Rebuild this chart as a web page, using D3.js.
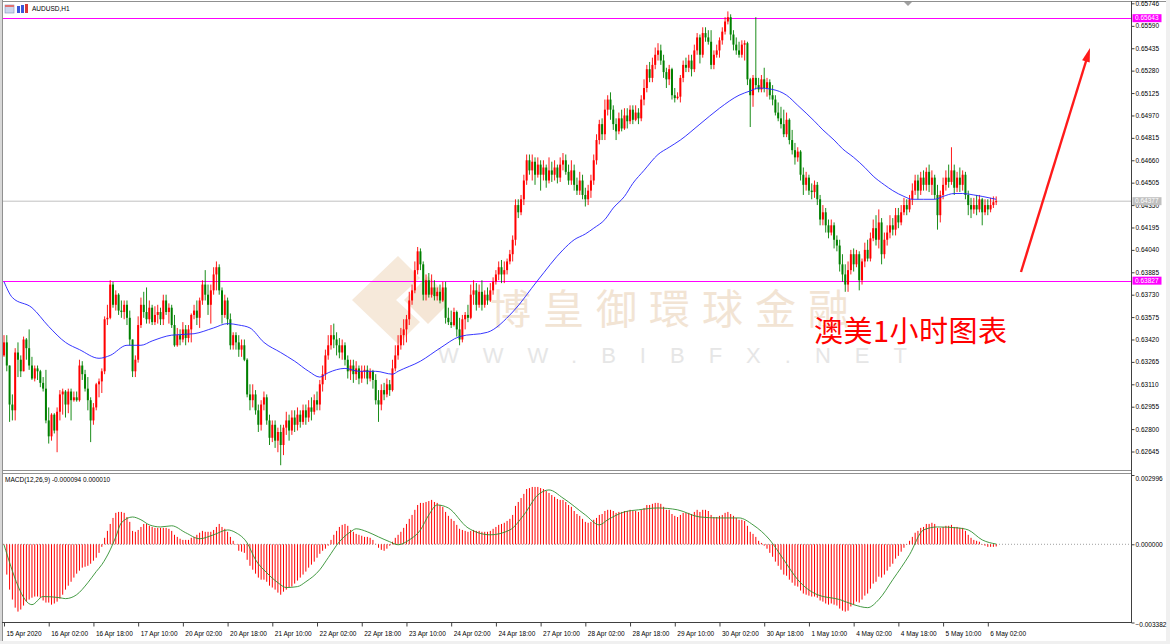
<!DOCTYPE html>
<html><head><meta charset="utf-8">
<script src="https://cdn.jsdelivr.net/npm/d3@7"></script>
<style>
html,body{margin:0;padding:0;background:#fff;}
svg{display:block;}
</style></head><body>
<svg id="c" width="1170" height="644"></svg>
<script>
// ---------------- DATA (prices in pips, i.e. x1e-4) ----------------
const symbolTitle = "AUDUSD,H1";
const macdTitle = "MACD(12,26,9) -0.000094 0.000010";
const firstOpen = 6331;
const closes = [6340,6324,6297,6293,6333,6328,6320,6342,6336,6324,
6315,6322,6320,6312,6308,6286,6275,6290,6279,6292,
6304,6306,6297,6306,6300,6302,6300,6324,6318,6308,
6300,6286,6295,6311,6313,6320,6356,6357,6380,6366,
6373,6362,6361,6366,6357,6342,6320,6328,6352,6366,
6361,6356,6364,6354,6359,6361,6356,6369,6361,6364,
6352,6338,6345,6342,6349,6343,6349,6359,6362,6357,
6369,6380,6373,6366,6376,6387,6392,6376,6359,6369,
6356,6338,6345,6340,6335,6338,6328,6304,6300,6304,
6293,6283,6297,6302,6286,6274,6283,6272,6278,6269,
6281,6286,6279,6288,6283,6290,6285,6293,6288,6295,
6292,6300,6297,6311,6318,6331,6338,6345,6342,6338,
6333,6338,6328,6320,6324,6318,6322,6315,6320,6321,
6315,6320,6314,6300,6297,6307,6304,6311,6307,6322,
6331,6338,6345,6349,6356,6369,6376,6390,6403,6394,
6373,6383,6373,6378,6372,6375,6369,6378,6357,6354,
6352,6361,6349,6342,6356,6359,6357,6373,6376,6366,
6375,6366,6373,6369,6376,6382,6387,6392,6387,6390,
6396,6401,6411,6435,6430,6439,6452,6466,6459,6465,
6456,6463,6456,6461,6452,6459,6456,6461,6454,6463,
6466,6458,6452,6459,6449,6445,6452,6442,6439,6445,
6452,6466,6480,6491,6484,6501,6508,6501,6491,6486,
6495,6488,6497,6493,6501,6494,6499,6495,6508,6516,
6529,6523,6532,6539,6542,6535,6527,6522,6529,6511,
6509,6510,6523,6532,6530,6535,6529,6542,6551,6539,
6554,6551,6548,6532,6539,6542,6549,6555,6562,6565,
6553,6546,6542,6539,6546,6547,6522,6511,6523,6518,
6515,6522,6516,6520,6511,6508,6499,6495,6491,6484,
6494,6480,6473,6468,6472,6456,6449,6454,6445,6444,
6449,6439,6425,6430,6421,6416,6421,6411,6407,6394,
6387,6380,6390,6401,6394,6401,6383,6396,6404,6398,
6412,6419,6411,6423,6401,6411,6416,6421,6418,6428,
6423,6430,6435,6432,6439,6445,6452,6445,6454,6449,
6458,6449,6454,6442,6428,6442,6449,6454,6451,6459,
6447,6454,6449,6456,6442,6435,6432,6435,6432,6439,
6430,6435,6432,6435,6437,6437.7];
const highs = [6345,6345,6324,6304,6336,6340,6331,6344,6343,6349,
6330,6324,6324,6321,6316,6321,6295,6291,6291,6295,
6307,6308,6307,6308,6308,6306,6306,6328,6327,6321,
6316,6302,6298,6312,6315,6322,6358,6366,6383,6382,
6376,6374,6369,6369,6369,6362,6342,6331,6358,6371,
6375,6378,6369,6366,6365,6366,6364,6373,6373,6367,
6366,6359,6350,6349,6354,6352,6352,6360,6366,6369,
6371,6383,6390,6380,6380,6392,6396,6394,6378,6373,
6371,6360,6347,6347,6345,6342,6342,6329,6311,6311,
6307,6297,6300,6306,6304,6290,6286,6286,6281,6283,
6283,6292,6290,6293,6293,6295,6293,6297,6297,6300,
6302,6304,6306,6314,6324,6335,6345,6352,6353,6347,
6343,6342,6340,6331,6328,6328,6327,6324,6324,6324,
6324,6322,6321,6318,6307,6311,6312,6315,6314,6328,
6338,6345,6350,6356,6359,6375,6380,6396,6406,6405,
6396,6387,6388,6387,6383,6378,6380,6382,6382,6364,
6362,6364,6362,6357,6359,6361,6366,6380,6383,6381,
6380,6383,6376,6378,6381,6385,6390,6396,6397,6396,
6398,6404,6414,6439,6439,6442,6456,6470,6470,6470,
6468,6468,6466,6466,6463,6468,6465,6466,6463,6468,
6471,6470,6463,6466,6463,6454,6458,6456,6447,6449,
6456,6470,6484,6494,6495,6508,6511,6513,6504,6495,
6499,6501,6502,6502,6504,6504,6504,6502,6511,6522,
6532,6534,6537,6544,6547,6546,6539,6530,6532,6530,
6516,6513,6525,6535,6537,6539,6539,6546,6554,6553,
6558,6558,6556,6556,6542,6546,6551,6558,6565,6569,
6567,6556,6551,6548,6549,6549,6548,6523,6525,6565,
6523,6525,6530,6523,6522,6518,6511,6506,6503,6501,
6499,6495,6487,6478,6475,6473,6461,6458,6456,6450,
6452,6451,6442,6435,6433,6425,6425,6423,6414,6411,
6401,6394,6396,6404,6405,6404,6403,6398,6409,6411,
6416,6425,6428,6432,6426,6416,6421,6428,6426,6433,
6433,6435,6440,6439,6442,6450,6456,6456,6458,6459,
6461,6463,6459,6456,6449,6445,6454,6459,6463,6475,
6463,6458,6461,6459,6458,6445,6440,6440,6442,6442,
6440,6439,6439,6440,6441,6441];
const lows = [6330,6320,6285,6286,6286,6316,6316,6320,6328,6321,
6314,6313,6314,6309,6306,6284,6270,6272,6277,6264,
6286,6290,6288,6291,6286,6299,6299,6299,6314,6306,
6293,6271,6283,6293,6302,6305,6318,6352,6356,6364,
6362,6359,6357,6356,6352,6338,6316,6316,6326,6350,
6357,6353,6353,6352,6352,6353,6352,6352,6359,6353,
6350,6337,6337,6338,6340,6338,6340,6340,6356,6352,
6350,6366,6369,6359,6353,6373,6376,6373,6353,6357,
6352,6335,6335,6335,6330,6330,6327,6302,6293,6295,
6290,6278,6279,6293,6283,6269,6271,6267,6264,6255,
6262,6276,6272,6276,6278,6279,6281,6283,6283,6285,
6286,6290,6293,6293,6306,6314,6328,6335,6336,6331,
6329,6328,6324,6315,6314,6312,6314,6311,6312,6315,
6311,6313,6308,6297,6285,6293,6300,6302,6303,6306,
6320,6328,6335,6338,6340,6352,6366,6374,6387,6390,
6369,6369,6371,6371,6369,6369,6367,6368,6353,6352,
6350,6351,6344,6338,6340,6349,6354,6356,6366,6362,
6364,6362,6364,6366,6368,6373,6380,6383,6381,6381,
6387,6394,6396,6407,6426,6428,6435,6449,6456,6452,
6449,6454,6445,6452,6447,6450,6451,6452,6450,6451,
6459,6456,6449,6449,6445,6442,6442,6439,6434,6435,
6440,6449,6463,6477,6480,6480,6497,6494,6487,6480,
6484,6486,6487,6488,6491,6491,6493,6491,6493,6504,
6513,6520,6520,6529,6535,6532,6523,6516,6518,6508,
6506,6508,6506,6520,6527,6527,6524,6527,6539,6533,
6537,6548,6546,6529,6529,6537,6537,6546,6553,6560,
6549,6542,6539,6537,6537,6535,6518,6489,6503,6515,
6513,6513,6513,6510,6508,6504,6497,6493,6488,6482,
6482,6477,6470,6463,6465,6452,6442,6445,6442,6439,
6440,6435,6421,6421,6416,6412,6414,6405,6403,6389,
6382,6375,6375,6387,6389,6392,6376,6380,6392,6396,
6396,6410,6407,6405,6394,6398,6407,6412,6414,6414,
6419,6421,6428,6428,6430,6435,6442,6439,6442,6445,
6445,6444,6442,6439,6418,6423,6439,6445,6447,6449,
6442,6444,6444,6445,6439,6428,6426,6429,6428,6430,
6421,6428,6428,6430,6433,6435];
// moving average read at selected bars: [bar index, price in pips]
const maPoints = [[0,6382],[3,6371],[10,6364],[16,6351],[22,6340],[27,6335],[34,6329],[38,6331],[44,6338],[49,6338],[53,6341],[60,6345],[68,6346],[75,6350],[80,6353],[84,6352],[88,6350],[93,6340],[99,6333],[104,6327],[109,6320],[113,6316],[116,6319],[122,6322],[127,6320],[133,6320],[139,6318],[141,6320],[149,6327],[156,6336],[163,6344],[173,6347],[182,6361],[191,6383],[200,6404],[204,6411],[208,6415],[211,6419],[215,6425],[218,6433],[222,6441],[225,6450],[229,6459],[234,6470],[238,6475],[242,6480],[249,6491],[256,6502],[263,6511],[267,6514],[270,6516],[275,6515],[280,6511],[284,6504],[290,6493],[293,6487],[297,6480],[300,6474],[304,6468],[308,6461],[311,6455],[315,6449],[318,6445],[322,6441],[325,6439],[329,6439],[333,6439],[336,6441],[340,6443],[343,6443],[347,6442],[350,6441],[355,6439]];
// MACD histogram per bar, units of 1e-5
const macdHist = [-2,-131,-196,-239,-274,-291,-282,-265,-248,-239,
-231,-226,-226,-231,-243,-252,-252,-261,-256,-248,
-235,-218,-196,-179,-162,-144,-127,-114,-101,-97,
-93,-84,-71,-58,-37,-11,28,58,88,114,
136,140,140,136,118,97,58,54,62,75,
88,88,80,75,71,71,71,71,71,67,
58,41,32,24,19,19,19,28,32,41,
50,58,54,54,54,62,75,88,75,67,
54,32,15,-2,-28,-32,-37,-67,-93,-110,
-127,-144,-153,-153,-162,-179,-187,-196,-209,-218,
-205,-196,-187,-183,-170,-157,-144,-131,-118,-101,
-88,-75,-58,-41,-28,-19,-6,19,41,58,
75,84,88,80,62,54,45,41,37,32,
32,28,19,2,-15,-24,-28,-19,-6,11,
28,41,54,71,88,110,127,149,170,179,
179,183,187,192,183,179,170,162,140,123,
110,101,84,67,62,58,54,58,62,58,
58,54,54,54,58,67,75,84,88,93,
101,110,127,166,183,200,218,239,243,248,
248,248,243,239,231,222,213,205,196,192,
192,183,170,162,144,131,123,110,97,93,
97,106,114,127,131,144,149,149,144,136,
140,140,144,144,149,144,144,140,149,157,
170,170,175,179,179,175,162,149,149,131,
123,118,127,136,136,136,131,140,149,140,
149,149,144,127,118,118,123,127,136,140,
131,123,114,106,106,101,80,54,45,32,
15,6,-6,-19,-37,-54,-75,-93,-110,-131,
-136,-153,-166,-179,-183,-200,-213,-218,-222,-226,
-226,-231,-243,-248,-256,-261,-256,-261,-265,-278,
-287,-291,-287,-269,-261,-248,-252,-239,-222,-213,
-192,-170,-162,-140,-144,-131,-114,-97,-84,-62,
-50,-32,-15,-2,15,32,50,58,71,75,
88,88,93,88,71,71,75,80,80,84,
75,75,71,71,58,41,28,19,15,11,
-2,-6,-11,-11,-11,-9.4];
// MACD signal line read at selected bars: [bar index, value 1e-5]
const signalPoints = [[0,-2],[10,-261],[14,-226],[20,-231],[22,-235],[26,-218],[30,-166],[33,-118],[35,-88],[38,-24],[40,32],[42,93],[46,118],[49,106],[52,84],[56,75],[60,80],[65,50],[70,24],[75,41],[80,62],[83,50],[87,6],[90,-67],[94,-123],[98,-166],[101,-187],[105,-183],[108,-162],[113,-110],[116,-58],[120,11],[124,54],[126,67],[130,54],[134,32],[138,11],[141,-2],[145,19],[149,62],[152,127],[155,170],[159,157],[166,71],[174,41],[181,62],[186,127],[191,213],[195,235],[200,200],[208,127],[213,84],[216,106],[222,140],[227,149],[234,157],[241,149],[249,118],[256,114],[263,114],[268,84],[274,19],[279,-67],[284,-153],[291,-218],[299,-239],[304,-261],[309,-274],[313,-239],[318,-153],[324,-45],[329,62],[334,75],[341,71],[345,62],[350,19],[355,1]];
const priceTicks = [0.65746,0.65590,0.65435,0.65280,0.65125,0.64970,0.64815,0.64660,0.64505,0.64350,0.64195,0.64040,0.63885,0.63730,0.63575,0.63420,0.63265,0.63110,0.62955,0.62800,0.62645];
const macdTicks = [0.002996, 0.000000, -0.003382];
const timeLabels = ["15 Apr 2020","16 Apr 02:00","16 Apr 18:00","17 Apr 10:00","20 Apr 02:00","20 Apr 18:00","21 Apr 10:00","22 Apr 02:00","22 Apr 18:00","23 Apr 10:00","24 Apr 02:00","24 Apr 18:00","27 Apr 10:00","28 Apr 02:00","28 Apr 18:00","29 Apr 10:00","30 Apr 02:00","30 Apr 18:00","1 May 10:00","4 May 02:00","4 May 18:00","5 May 10:00","6 May 02:00"];
const timeTickBars = [0,16,32,48,64,80,96,112,128,144,160,176,192,208,224,240,256,272,288,304,320,336,352];
const levelPrices = [0.65643, 0.63827];
const currentPrice = 0.64377;
const watermarkCN = "博皇御環球金融";
const watermarkURL = "WWW.BIBFX.NET";
const noteText = "澳美1小时图表";

// ---------------- DRAWING ----------------
const FONT = "'Liberation Sans', Arial, sans-serif";
const svg = d3.select("#c");
const X0 = 3, XR = 1131, MT = 2, MB = 470, ST = 474, SB = 622.5;

const x = d3.scaleLinear().domain([0, 352]).range([4, 987.8]);
const y = d3.scaleLinear().domain([0.65746, 0.62524]).range([3.3, 469]);
const ym = d3.scaleLinear().domain([0.002996, -0.003382]).range([475, 622.5]);

svg.append("rect").attr("width",1170).attr("height",644).attr("fill","#fff");
svg.append("rect").attr("x",0).attr("y",641).attr("width",1170).attr("height",3).attr("fill","#f0f0f0");
svg.append("rect").attr("x",1166).attr("y",0).attr("width",4).attr("height",644).attr("fill","#f0f0f0");
svg.append("rect").attr("x",0).attr("y",0).attr("width",2).attr("height",641).attr("fill","#d8d8d8");

const defs = svg.append("defs");
defs.append("clipPath").attr("id","cm").append("rect").attr("x",X0).attr("y",MT).attr("width",XR-X0).attr("height",MB-MT);
defs.append("clipPath").attr("id","cs").append("rect").attr("x",X0).attr("y",ST).attr("width",XR-X0).attr("height",SB-ST);

// watermark
const wm = svg.append("g").attr("clip-path","url(#cm)");
wm.append("polygon").attr("points","352,300 398,256 420,278 396,300 420,322 398,344").attr("fill","#f6e9da");
wm.append("polygon").attr("points","404,300 428,276 446,294 446,306 428,324").attr("fill","#f1dcc4").attr("opacity",0.7);
wm.append("text").attr("x",490).attr("y",324).attr("font-family","'Noto Sans CJK SC', sans-serif")
  .attr("font-size",41).attr("letter-spacing",12).attr("fill","#f2e4d4").text(watermarkCN);
wm.append("text").attr("x",438).attr("y",363).attr("font-family","'Liberation Sans', Arial, sans-serif")
  .attr("font-size",22).attr("letter-spacing",24).attr("fill","#e6e6e6").text(watermarkURL);

// level lines
const gm = svg.append("g").attr("clip-path","url(#cm)");
gm.append("line").attr("x1",X0).attr("x2",XR).attr("y1",y(currentPrice)).attr("y2",y(currentPrice)).attr("stroke","#c0c0c0").attr("stroke-width",1);
levelPrices.forEach(p=>{
  gm.append("line").attr("x1",X0).attr("x2",XR).attr("y1",Math.round(y(p))+0.5).attr("y2",Math.round(y(p))+0.5).attr("stroke","#ff00ff").attr("stroke-width",1);
});

// candles
const bars = closes.map((c,i)=>{
  const o = i ? closes[i-1] : firstOpen;
  return {i, o:o/1e4, c:c/1e4, h:Math.max(highs[i],o,c)/1e4, l:Math.min(lows[i],o,c)/1e4};
});
const colUp = "#ff0000", colDn = "#008000";
gm.selectAll("line.wick").data(bars).join("line").attr("class","wick")
  .attr("x1",d=>x(d.i)).attr("x2",d=>x(d.i)).attr("y1",d=>y(d.h)).attr("y2",d=>y(d.l))
  .attr("stroke",d=>d.c>=d.o?colUp:colDn).attr("stroke-width",0.9);
gm.selectAll("rect.body").data(bars).join("rect").attr("class","body")
  .attr("x",d=>x(d.i)-1).attr("width",2)
  .attr("y",d=>y(Math.max(d.o,d.c))).attr("height",d=>Math.max(0.8, Math.abs(y(d.o)-y(d.c))))
  .attr("fill",d=>d.c>=d.o?colUp:colDn);

// moving average
gm.append("path").datum(maPoints).attr("fill","none").attr("stroke","#2020ff").attr("stroke-width",0.9)
  .attr("d", d3.line().x(d=>x(d[0])).y(d=>y(d[1]/1e4)).curve(d3.curveMonotoneX));

// MACD panel
const gs = svg.append("g").attr("clip-path","url(#cs)");
gs.append("line").attr("x1",X0).attr("x2",XR+6).attr("y1",ym(0)).attr("y2",ym(0))
  .attr("stroke","#a0a0a0").attr("stroke-dasharray","1,2");
gs.selectAll("rect.h").data(macdHist).join("rect").attr("class","h")
  .attr("x",(d,i)=>x(i)-0.5).attr("width",1)
  .attr("y",d=>Math.min(ym(0),ym(d/1e5))).attr("height",d=>Math.abs(ym(d/1e5)-ym(0)))
  .attr("fill","#ff0000");
gs.append("path").datum(signalPoints).attr("fill","none").attr("stroke","#2f8f2f").attr("stroke-width",0.9)
  .attr("d", d3.line().x(d=>x(d[0])).y(d=>ym(d[1]/1e5)).curve(d3.curveMonotoneX));

// frames
const fr = svg.append("g").attr("stroke","#909090").attr("stroke-width",1).attr("fill","none");
fr.append("line").attr("x1",2.5).attr("x2",2.5).attr("y1",0).attr("y2",641);
fr.append("line").attr("x1",2).attr("x2",1166).attr("y1",1.5).attr("y2",1.5);
fr.append("line").attr("x1",2).attr("x2",XR).attr("y1",470.5).attr("y2",470.5);
fr.append("line").attr("x1",2).attr("x2",XR).attr("y1",473.5).attr("y2",473.5);
fr.append("line").attr("x1",2).attr("x2",XR).attr("y1",622.5).attr("y2",622.5).attr("stroke","#404040");
fr.append("line").attr("x1",XR+0.5).attr("x2",XR+0.5).attr("y1",1).attr("y2",623).attr("stroke","#404040");

// shift marker
svg.append("polygon").attr("points","904,2 912,2 908,6").attr("fill","#a0a0a0");

// right price axis
const ax = svg.append("g").attr("transform",`translate(${XR+0.5},0)`)
  .call(d3.axisRight(y).tickValues(priceTicks).tickSize(3).tickPadding(1).tickFormat(d3.format(".5f")));
ax.select(".domain").remove();
ax.selectAll("line").attr("stroke","#404040");
ax.selectAll("text").attr("font-family",FONT).attr("font-size",6.5).attr("fill","#000");

const axm = svg.append("g").attr("transform",`translate(${XR+0.5},0)`)
  .call(d3.axisRight(ym).tickValues(macdTicks).tickSize(3).tickPadding(1).tickFormat(d3.format(".6f")));
axm.select(".domain").remove();
axm.selectAll("line").attr("stroke","#404040");
axm.selectAll("text").attr("font-family",FONT).attr("font-size",6.5).attr("fill","#000")
  .attr("dy",(d)=> d>0.002 ? "0.9em" : (d<-0.003 ? "0.55em" : "0.32em"));

// price label boxes
function priceBox(p, fill){
  const g = svg.append("g");
  const yy = y(p);
  g.append("rect").attr("x",XR+1.5).attr("y",yy-4).attr("width",29).attr("height",8).attr("fill",fill);
  g.append("text").attr("x",XR+4).attr("y",yy).attr("dy","0.35em").attr("font-family",FONT)
    .attr("font-size",6.5).attr("fill","#fff").text(d3.format(".5f")(p));
}
levelPrices.forEach(p=>priceBox(p,"#ff00ff"));
priceBox(currentPrice,"#c0c0c0");

// time axis
const axt = svg.append("g").attr("transform",`translate(0,${SB})`)
  .call(d3.axisBottom(x).tickValues(timeTickBars).tickSize(4).tickFormat((d,k)=>timeLabels[k]));
axt.select(".domain").remove();
axt.selectAll("line").attr("stroke","#404040");
axt.selectAll("text").attr("font-family",FONT).attr("font-size",6.5).attr("fill","#000")
  .attr("text-anchor","start").attr("x",2).attr("y",9);

// titles
svg.append("rect").attr("x",5).attr("y",5).attr("width",9).attr("height",8).attr("fill","#cdd6ee").attr("stroke","#7f8fb8").attr("stroke-width",0.6);
svg.append("rect").attr("x",5).attr("y",5).attr("width",9).attr("height",2).attr("fill","#e07070");
svg.append("rect").attr("x",17).attr("y",6).attr("width",3).attr("height",7).attr("fill","#3a56d8");
svg.append("rect").attr("x",21).attr("y",5).attr("width",3).attr("height",8).attr("fill","#3a56d8");
svg.append("rect").attr("x",25).attr("y",4).attr("width",3).attr("height",9).attr("fill","#d83a3a");
svg.append("text").attr("x",32).attr("y",10.5).attr("font-family",FONT).attr("font-size",6.5).attr("fill","#000").text(symbolTitle);
svg.append("text").attr("x",5).attr("y",482).attr("font-family",FONT).attr("font-size",6.5).attr("fill","#000").text(macdTitle);

// annotation
svg.append("text").attr("x",814).attr("y",342).attr("font-family","'Noto Sans CJK SC', sans-serif")
  .attr("font-size",29).attr("letter-spacing",0.5).attr("fill","#ff0000").text(noteText);
svg.append("line").attr("x1",1021).attr("y1",272).attr("x2",1087).attr("y2",58)
  .attr("stroke","#ff1a1a").attr("stroke-width",2.4);
svg.append("polygon").attr("points","1090,48 1089.7,62.6 1082.1,60.2").attr("fill","#ff1a1a");
</script>
</body></html>
